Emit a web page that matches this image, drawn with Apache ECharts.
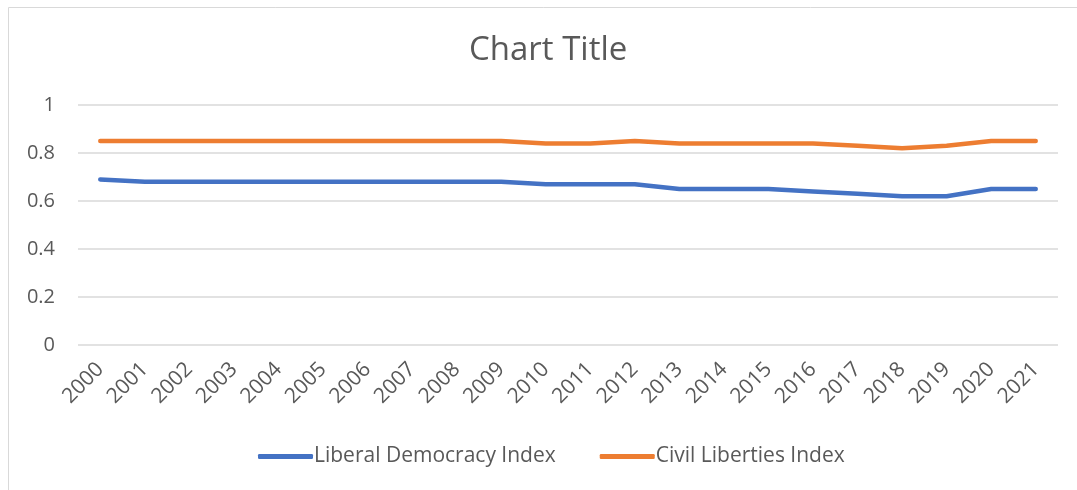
<!DOCTYPE html>
<html>
<head>
<meta charset="utf-8">
<script src="https://cdn.jsdelivr.net/npm/echarts@6/dist/echarts.min.js"></script>
<style>
  html, body { margin: 0; padding: 0; background: #fff; }
  #chartmain { width: 1077px; height: 490px; }
</style>
</head>
<body>
<div id="chartmain"></div>
<script>
var years = ["2000", "2001", "2002", "2003", "2004", "2005", "2006", "2007", "2008", "2009", "2010",
  "2011", "2012", "2013", "2014", "2015", "2016", "2017", "2018", "2019", "2020", "2021"];
var liberalDemocracy = [0.69, 0.68, 0.68, 0.68, 0.68, 0.68, 0.68, 0.68, 0.68, 0.68, 0.67,
  0.67, 0.67, 0.65, 0.65, 0.65, 0.64, 0.63, 0.62, 0.62, 0.65, 0.65];
var civilLiberties = [0.85, 0.85, 0.85, 0.85, 0.85, 0.85, 0.85, 0.85, 0.85, 0.85, 0.84,
  0.84, 0.85, 0.84, 0.84, 0.84, 0.84, 0.83, 0.82, 0.83, 0.85, 0.85];
var seriesNames = ["Liberal Democracy Index", "Civil Liberties Index"];
var yTicks = [0, 0.2, 0.4, 0.6, 0.8, 1];

var font = "'Open Sans', 'Noto Sans', sans-serif";
var textColor = "#595959";

var option = {
  animation: false,
  title: {
    text: "Chart Title",
    left: 464,
    top: 29,
    textStyle: { fontFamily: font, fontSize: 33, fontWeight: "normal", color: textColor }
  },
  // chart area border, like the excel frame
  graphic: [{
    type: "rect",
    shape: { x: 8.5, y: 7.5, width: 1100, height: 520 },
    style: { fill: "none", stroke: "#d9d9d9", lineWidth: 1 },
    silent: true
  }],
  grid: { left: 78, right: 19, top: 105, bottom: 145 },
  legend: {
    bottom: 18,
    left: 253,
    data: seriesNames,
    icon: "roundRect",
    itemWidth: 55,
    itemHeight: 5,
    itemGap: 44,
    textStyle: { fontFamily: font, fontSize: 21, color: textColor, padding: [0, 0, 0, -4] }
  },
  xAxis: {
    type: "category",
    data: years,
    boundaryGap: true,
    axisLine: { show: false },
    axisTick: { show: false },
    axisLabel: { rotate: 45, fontFamily: font, fontSize: 21, color: textColor, margin: 21 }
  },
  yAxis: {
    type: "value",
    min: yTicks[0],
    max: yTicks[yTicks.length - 1],
    interval: 0.2,
    axisLine: { show: false },
    axisTick: { show: false },
    axisLabel: { fontFamily: font, fontSize: 20, color: textColor, margin: 23 },
    splitLine: { lineStyle: { color: "#d9d9d9", width: 1.5 } }
  },
  series: [
    {
      name: seriesNames[0],
      type: "line",
      data: liberalDemocracy,
      symbol: "none",
      color: "#4472C4",
      lineStyle: { width: 4.5, cap: "round", join: "round" }
    },
    {
      name: seriesNames[1],
      type: "line",
      data: civilLiberties,
      symbol: "none",
      color: "#ED7D31",
      lineStyle: { width: 4.5, cap: "round", join: "round" }
    }
  ]
};

var myChart = echarts.init(document.getElementById("chartmain"));
myChart.setOption(option);
</script>
</body>
</html>
